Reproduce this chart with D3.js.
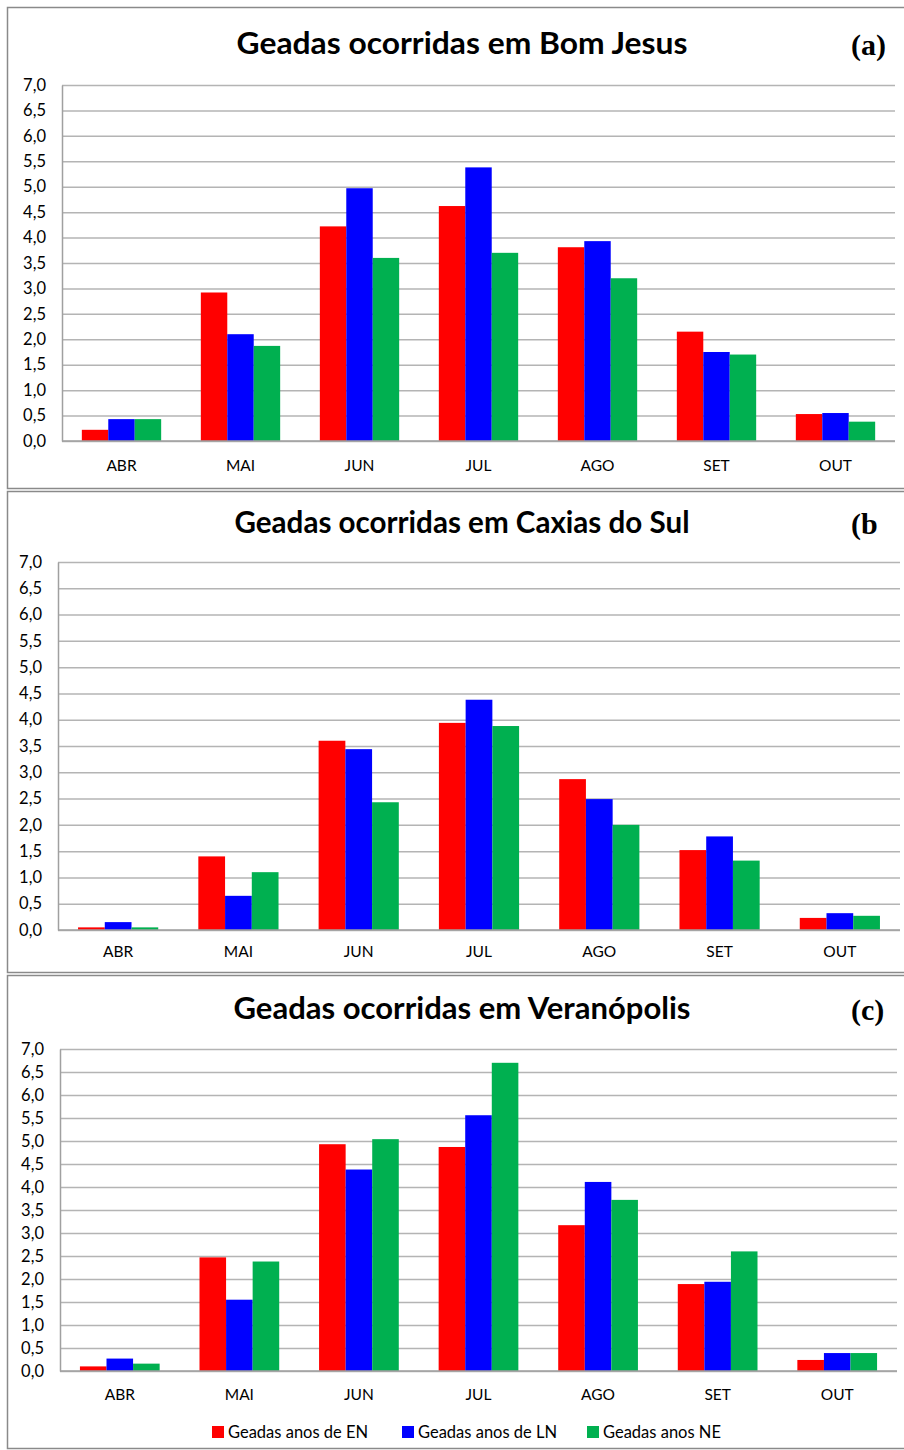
<!DOCTYPE html>
<html>
<head>
<meta charset="utf-8">
<script src="https://cdn.jsdelivr.net/npm/d3@7"></script>
<style>
  body { margin: 0; background: #fff; }
  svg { display: block; }
  text { font-family: Lato, "Open Sans", sans-serif; }
</style>
</head>
<body>
<svg width="904" height="1450"></svg>
<script>
// meses (eixo X)
const meses = ["ABR", "MAI", "JUN", "JUL", "AGO", "SET", "OUT"];
// séries
const series = ["Geadas anos de EN", "Geadas anos de LN", "Geadas anos NE"];
const cores = ["#ff0000", "#0000ff", "#00b050"];
// ticks do eixo Y
const ticksY = [0, 0.5, 1, 1.5, 2, 2.5, 3, 3.5, 4, 4.5, 5, 5.5, 6, 6.5, 7];

// valores: [EN, LN, NE] por mês
const bomJesus = [
    [0.22, 0.43, 0.43],
    [2.92, 2.10, 1.87],
    [4.22, 4.97, 3.60],
    [4.62, 5.38, 3.70],
    [3.81, 3.93, 3.20],
    [2.15, 1.75, 1.70],
    [0.53, 0.55, 0.38]
];
const caxiasDoSul = [
    [0.05, 0.15, 0.05],
    [1.40, 0.65, 1.10],
    [3.60, 3.44, 2.43],
    [3.94, 4.38, 3.88],
    [2.87, 2.49, 2.00],
    [1.52, 1.78, 1.32],
    [0.23, 0.32, 0.27]
];
const veranopolis = [
    [0.10, 0.27, 0.16],
    [2.47, 1.55, 2.38],
    [4.93, 4.38, 5.04],
    [4.87, 5.56, 6.70],
    [3.17, 4.11, 3.72],
    [1.89, 1.94, 2.60],
    [0.24, 0.39, 0.39]
];

const titulos = ["Geadas ocorridas em Bom Jesus", "Geadas ocorridas em Caxias do Sul", "Geadas ocorridas em Veranópolis"];
const larguraTitulo = [451, 455, 457];
const letras = ["(a)", "(b", "(c)"];

const svg = d3.select("svg");

// área de cada painel
const paineis = [
    {dados: bomJesus,    top: 7,   bottom: 488,  titleY: 54,   left: 62, right: 895, y7: 85,   y0: 441,  labelY: 471},
    {dados: caxiasDoSul, top: 491, bottom: 972,  titleY: 533,  left: 58, right: 900, y7: 562,  y0: 930,  labelY: 957},
    {dados: veranopolis, top: 975, bottom: 1448, titleY: 1019, left: 60, right: 897, y7: 1049, y0: 1371, labelY: 1400}
];

paineis.forEach((p, i) => drawPanel(p, i));

function drawPanel(p, i) {
    const g = svg.append("g");

    // moldura
    g.append("rect")
        .attr("x", 7.5).attr("y", p.top + 0.5)
        .attr("width", 920).attr("height", p.bottom - p.top)
        .attr("fill", "none")
        .attr("stroke", "#8a8a8a")
        .attr("stroke-width", 1.5);

    // título
    g.append("text")
        .attr("x", 462).attr("y", p.titleY)
        .attr("text-anchor", "middle")
        .attr("textLength", larguraTitulo[i])
        .attr("lengthAdjust", "spacingAndGlyphs")
        .style("font-size", "31px")
        .style("font-weight", "bold")
        .text(titulos[i]);

    g.append("text")
        .attr("x", 851).attr("y", p.titleY + 1)
        .style("font-family", "'Liberation Serif', 'Times New Roman', serif")
        .style("font-size", "30px")
        .style("font-weight", "bold")
        .text(letras[i]);

    const scX = d3.scaleBand()
        .domain(meses)
        .range([p.left, p.right]);

    const gap = scX.bandwidth() * 0.75 / 4.5;
    const scSerie = d3.scaleBand()
        .domain(d3.range(series.length))
        .range([gap, scX.bandwidth() - gap]);

    const scY = d3.scaleLinear()
        .domain([0, 7])
        .range([p.y0, p.y7]);

    // linhas de grade
    g.append("g")
        .attr("transform", `translate(${p.left},0)`)
        .call(d3.axisLeft(scY).tickValues(ticksY).tickSize(-(p.right - p.left)).tickFormat(""))
        .call(a => a.select(".domain").remove())
        .call(a => a.selectAll("line").attr("stroke", "#b4b4b4").attr("stroke-width", 1.5));

    // eixo Y
    g.append("g")
        .attr("transform", `translate(${p.left},0)`)
        .call(d3.axisLeft(scY).tickValues(ticksY).tickSize(0).tickPadding(16)
            .tickFormat(d => d3.format(".1f")(d).replace(".", ",")))
        .call(a => a.select(".domain").attr("stroke", "#a0a0a0").attr("stroke-width", 1.5))
        .call(a => a.selectAll("text")
            .style("font-size", "16.5px")
            .style("font-family", "Lato, sans-serif")
            .attr("fill", "#000"));

    // barras
    g.append("g").selectAll("g")
        .data(p.dados)
        .join("g")
        .attr("transform", (d, k) => `translate(${scX(meses[k])},0)`)
        .selectAll("rect")
        .data(d => d)
        .join("rect")
        .attr("x", (d, s) => scSerie(s))
        .attr("y", d => scY(d))
        .attr("width", scSerie.bandwidth())
        .attr("height", d => scY(0) - scY(d))
        .attr("fill", (d, s) => cores[s]);

    // eixo X (linha base)
    g.append("line")
        .attr("x1", p.left).attr("x2", p.right)
        .attr("y1", p.y0).attr("y2", p.y0)
        .attr("stroke", "#a0a0a0").attr("stroke-width", 1.5);

    // rótulos dos meses
    g.append("g").selectAll("text")
        .data(meses)
        .join("text")
        .attr("x", d => scX(d) + scX.bandwidth() / 2)
        .attr("y", p.labelY)
        .attr("text-anchor", "middle")
        .style("font-size", "15.5px")
        .text(d => d);
}

// legenda
const legX = [212, 402, 587];
const leg = svg.append("g").selectAll("g")
    .data(series)
    .join("g")
    .attr("transform", (d, s) => `translate(${legX[s]},1432)`);

leg.append("rect")
    .attr("x", 0).attr("y", -6)
    .attr("width", 12).attr("height", 12)
    .attr("fill", (d, s) => cores[s]);

leg.append("text")
    .attr("x", 16).attr("y", 6)
    .style("font-size", "16.5px")
    .text(d => d);
</script>
</body>
</html>
